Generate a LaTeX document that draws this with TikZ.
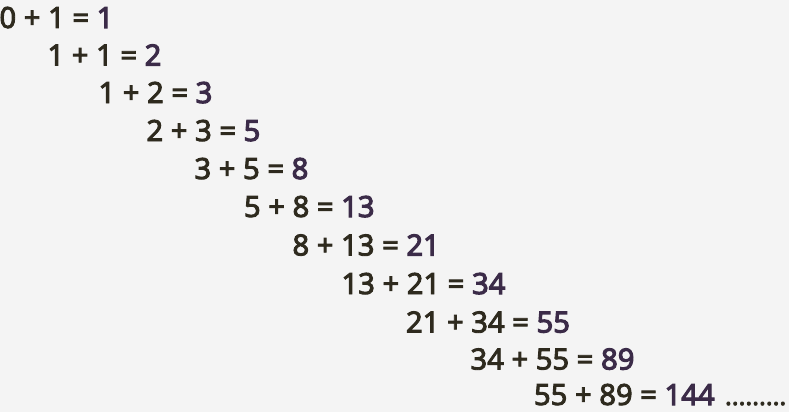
\documentclass[tikz,border=0pt]{standalone}
\usepackage{fontspec}
\newfontfamily\eqfont{Noto Sans}[FakeBold=3.0]
\newfontfamily\resfont{Noto Sans}[FakeBold=3.6]
\definecolor{bgc}{HTML}{F4F4F4}
\definecolor{lhs}{HTML}{2E2A1E}
\definecolor{rhs}{HTML}{3B2B48}
\newcommand{\res}[1]{{\resfont\textcolor{rhs}{#1}}}
\tikzset{
  eq/.style={anchor=base west, inner sep=0pt, outer sep=0pt, text=lhs,
    font=\eqfont\fontsize{29.2}{30}\selectfont},
  dotsstyle/.style={anchor=base west, inner sep=0pt, outer sep=0pt, text=lhs,
    font=\eqfont\fontsize{25.4}{27}\selectfont}
}
\begin{document}
\begin{tikzpicture}[x=1pt,y=-1pt]
\fill[bgc] (0,0) rectangle (789,412);
\useasboundingbox (0,0) rectangle (789,412);
\node[eq] (l1) at (-0.5,28) {0 + 1 = \res{1}};
\node[eq] (l2) at (47.5,65.5) {1 + 1 = \res{2}};
\node[eq] (l3) at (98.5,103) {1 + 2 = \res{3}};
\node[eq] (l4) at (146.5,141) {2 + 3 = \res{5}};
\node[eq] (l5) at (194.5,179) {3 + 5 = \res{8}};
\node[eq] (l6) at (244,217) {5 + 8 = \res{13}};
\node[eq] (l7) at (292.5,255.5) {8 + 13 = \res{21}};
\node[eq] (l8) at (341.5,294) {13 + 21 = \res{34}};
\node[eq] (l9) at (406,332.5) {21 + 34 = \res{55}};
\node[eq] (l10) at (470.5,369.5) {34 + 55 = \res{89}};
\node[eq] (l11) at (534,405) {55 + 89 = \res{144}};
\node[dotsstyle] (dots) at (725,405) {.........};
\end{tikzpicture}
\end{document}
